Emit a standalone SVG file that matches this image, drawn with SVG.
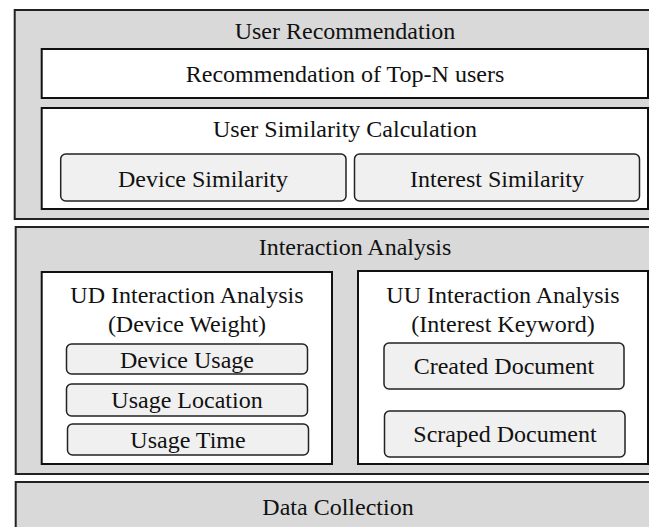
<svg xmlns="http://www.w3.org/2000/svg" width="649" height="527" viewBox="0 0 649 527">
<style>
.layer{fill:#d9d9d9;stroke:#222;stroke-width:2}
.panel{fill:#ffffff;stroke:#111;stroke-width:2}
.item{fill:#f0f0f0;stroke:#222;stroke-width:1.5}
text{font-family:"Liberation Serif","Times New Roman",serif;font-size:24px;fill:#111;text-anchor:middle}
</style>
<rect x="0" y="0" width="649" height="527" fill="#ffffff"/>
<g id="user-recommendation">
<rect class="layer" x="14.7" y="10" width="662" height="209"/>
<text x="345" y="39">User Recommendation</text>
</g>
<g id="top-n">
<rect class="panel" x="41.7" y="49" width="606.3" height="49"/>
<text x="345" y="82">Recommendation of Top-N users</text>
</g>
<g id="user-similarity">
<rect class="panel" x="41.7" y="108" width="606.3" height="101"/>
<text x="345" y="137">User Similarity Calculation</text>
</g>
<g id="device-similarity">
<rect class="item" x="60.7" y="154" width="285.3" height="47" rx="5"/>
<text x="203" y="187">Device Similarity</text>
</g>
<g id="interest-similarity">
<rect class="item" x="354.5" y="154" width="285" height="47" rx="5"/>
<text x="497" y="187">Interest Similarity</text>
</g>
<g id="interaction-analysis">
<rect class="layer" x="15.7" y="227" width="661" height="247"/>
<text x="355" y="255">Interaction Analysis</text>
</g>
<g id="ud-interaction">
<rect class="panel" x="41.7" y="272" width="290.3" height="192"/>
<text x="187" y="303">UD Interaction Analysis</text>
<text x="187" y="332">(Device Weight)</text>
</g>
<g id="device-usage">
<rect class="item" x="66.5" y="344" width="241" height="30" rx="5"/>
<text x="187" y="368">Device Usage</text>
</g>
<g id="usage-location">
<rect class="item" x="66.5" y="384" width="241" height="32" rx="5"/>
<text x="187" y="408">Usage Location</text>
</g>
<g id="usage-time">
<rect class="item" x="67.5" y="424" width="241" height="31" rx="5"/>
<text x="188" y="448">Usage Time</text>
</g>
<g id="uu-interaction">
<rect class="panel" x="358" y="271" width="290" height="193"/>
<text x="503" y="303">UU Interaction Analysis</text>
<text x="503" y="332">(Interest Keyword)</text>
</g>
<g id="created-document">
<rect class="item" x="384" y="343" width="240" height="46" rx="5"/>
<text x="504" y="374">Created Document</text>
</g>
<g id="scraped-document">
<rect class="item" x="384.5" y="411" width="240.5" height="46" rx="5"/>
<text x="505" y="442">Scraped Document</text>
</g>
<g id="data-collection">
<rect class="layer" x="15.7" y="482" width="661" height="60"/>
<text x="338" y="515">Data Collection</text>
</g>
<g id="connectors"></g>
</svg>
